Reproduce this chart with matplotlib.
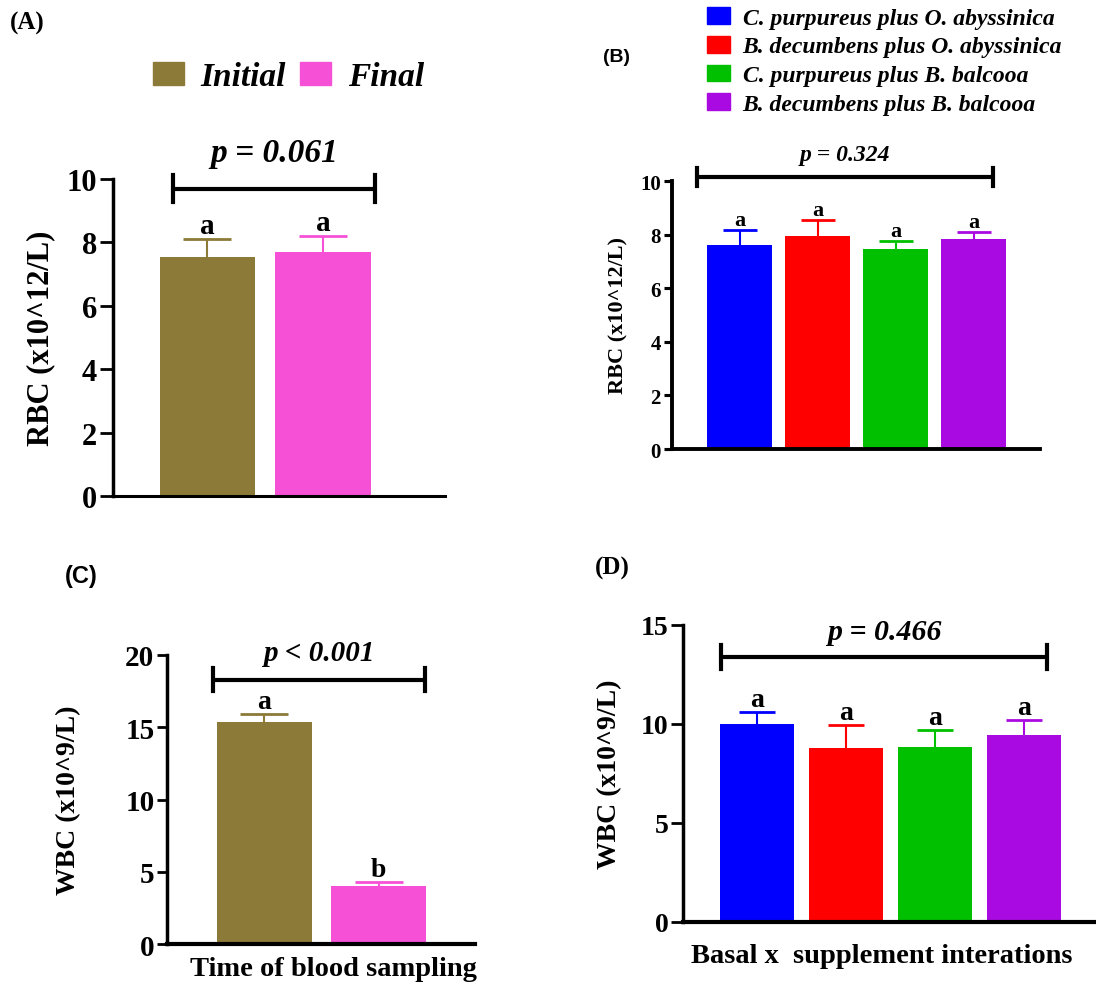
import numpy as np
import matplotlib.pyplot as plt
from matplotlib.patches import Patch

plt.rcParams['font.family'] = 'Liberation Serif'
plt.rcParams['font.weight'] = 'bold'

# data
time_groups = ["Initial", "Final"]
time_colors = ["#8c7a38", "#f550d6"]
rbc_time = [7.55, 7.7]
rbc_time_err = [0.55, 0.5]
wbc_time = [15.35, 4.0]
wbc_time_err = [0.6, 0.3]
wbc_time_letters = ["a", "b"]

diet_groups = ["C. purpureus plus O. abyssinica", "B. decumbens plus O. abyssinica",
               "C. purpureus plus B. balcooa", "B. decumbens plus B. balcooa"]
diet_colors = ["#0000ff", "#ff0000", "#00c000", "#aa0ae2"]
rbc_diet = [7.6, 7.95, 7.45, 7.82]
rbc_diet_err = [0.58, 0.58, 0.3, 0.28]
wbc_diet = [10.0, 8.8, 8.85, 9.45]
wbc_diet_err = [0.6, 1.15, 0.85, 0.75]

W, H = 1096, 987
fig = plt.figure(figsize=(W / 100, H / 100), dpi=100)


def box(l, r, b, t):
    return [l / W, 1 - b / H, (r - l) / W, (b - t) / H]


def panel(rect, vals, errs, colors, letters, xlim, ylim, yticks, lw_left, lw_bot,
          tick_fs, tick_len, cap, letter_fs, brk, ptxt, p_fs, ptxt_y):
    ax = fig.add_axes(rect)
    x = np.arange(len(vals))
    ax.bar(x, vals, width=0.83, color=colors, zorder=2)
    for i in x:
        eb = ax.errorbar(i, vals[i], yerr=[[0], [errs[i]]], color=colors[i], capsize=cap,
                         elinewidth=1.5, capthick=2, zorder=1)
        eb[1][0].set_visible(False)  # no lower cap
        ax.text(i, vals[i] + errs[i], letters[i], ha='center', va='bottom',
                fontsize=letter_fs, fontweight='bold')
    x0, x1, yb, hh = brk
    ax.plot([x0, x1], [yb, yb], color='black', lw=3, clip_on=False, solid_capstyle='butt')
    for xx in (x0, x1):
        ax.plot([xx, xx], [yb - hh, yb + hh], color='black', lw=3, clip_on=False)
    ax.text((x0 + x1) / 2, ptxt_y, ptxt, ha='center', va='center', fontsize=p_fs,
            fontweight='bold', style='italic')
    ax.set_xlim(*xlim)
    ax.set_ylim(*ylim)
    ax.set_yticks(yticks)
    ax.set_xticks([])
    ax.spines['top'].set_visible(False)
    ax.spines['right'].set_visible(False)
    ax.spines['left'].set_linewidth(lw_left)
    ax.spines['bottom'].set_linewidth(lw_bot)
    ax.tick_params(axis='y', width=lw_left * 0.8, length=tick_len, labelsize=tick_fs, pad=2)
    for t in ax.get_yticklabels():
        t.set_fontweight('bold')
    return ax


# (A)
axA = panel(box(113, 445, 497, 180), rbc_time, rbc_time_err, time_colors, ["a", "a"],
            (-0.818, 2.056), (0, 10), range(0, 11, 2), 2.5, 2.2, 22, 9.5, 17, 21,
            (-0.3, 1.45, 9.7, 0.42), "p = 0.061", 24, 10.85)
axA.set_ylabel("RBC (x10^12/L)", fontsize=22, fontweight='bold')
axA.yaxis.set_label_coords(-0.175, 0.5)

# (B)
axB = panel(box(672, 1040, 450, 182), rbc_diet, rbc_diet_err, diet_colors, ["a"] * 4,
            (-0.865, 3.85), (0, 10), range(0, 11, 2), 2.8, 2.8, 15, 6, 12, 16,
            (-0.55, 3.25, 10.15, 0.35), "p = 0.324", 17, 11.0)
axB.set_ylabel("RBC (x10^12/L)", fontsize=16, fontweight='bold')
axB.yaxis.set_label_coords(-0.117, 0.5)

# (C)
axC = panel(box(167, 475, 945, 656), wbc_time, wbc_time_err, time_colors, wbc_time_letters,
            (-0.85, 1.84), (0, 20), range(0, 21, 5), 2.5, 3.0, 21, 7, 17, 20,
            (-0.45, 1.4, 18.3, 0.8), "p < 0.001", 21, 20.2)
axC.set_ylabel("WBC (x10^9/L)", fontsize=20, fontweight='bold')
axC.yaxis.set_label_coords(-0.28, 0.5)
axC.set_xlabel("Time of blood sampling", fontsize=20.5, fontweight='bold')
axC.xaxis.set_label_coords(0.54, -0.04)

# (D)
axD = panel(box(683, 1096, 923, 626), wbc_diet, wbc_diet_err, diet_colors, ["a"] * 4,
            (-0.83, 3.81), (0, 15), range(0, 16, 5), 2.5, 3.0, 20, 8.5, 13, 20,
            (-0.4, 3.26, 13.4, 0.6), "p = 0.466", 21.5, 14.65)
axD.set_ylabel("WBC (x10^9/L)", fontsize=20, fontweight='bold')
axD.yaxis.set_label_coords(-0.148, 0.5)
axD.set_xlabel("Basal x  supplement interations", fontsize=20.5, fontweight='bold')
axD.xaxis.set_label_coords(0.482, -0.072)

# legends
hA = [Patch(color=c) for c in time_colors]
fig.legend(hA, time_groups, loc='center left', bbox_to_anchor=(136 / W, 1 - 78 / H),
           ncol=2, frameon=False, borderpad=0, handlelength=0.93, handleheight=0.69,
           columnspacing=0.42, handletextpad=0.51,
           prop={'family': 'Liberation Serif', 'weight': 'bold', 'style': 'italic', 'size': 24})
hB = [Patch(color=c) for c in diet_colors]
fig.legend(hB, diet_groups, loc='center left', bbox_to_anchor=(695 / W, 1 - 62 / H),
           ncol=1, frameon=False, borderpad=0, handlelength=0.97, handleheight=0.72,
           labelspacing=0.3, handletextpad=0.55,
           prop={'family': 'Liberation Serif', 'weight': 'bold', 'style': 'italic', 'size': 17})

# panel labels
fig.text(10 / W, 1 - 23 / H, "(A)", fontsize=18, fontweight='bold', va='center')
fig.text(603 / W, 1 - 57 / H, "(B)", fontsize=14, fontweight='bold', va='center',
         family='Liberation Sans')
fig.text(65 / W, 1 - 577 / H, "(C)", fontsize=17, fontweight='bold', va='center',
         family='Liberation Sans')
fig.text(595 / W, 1 - 568 / H, "(D)", fontsize=18, fontweight='bold', va='center')

plt.savefig("out.png", dpi=100)
